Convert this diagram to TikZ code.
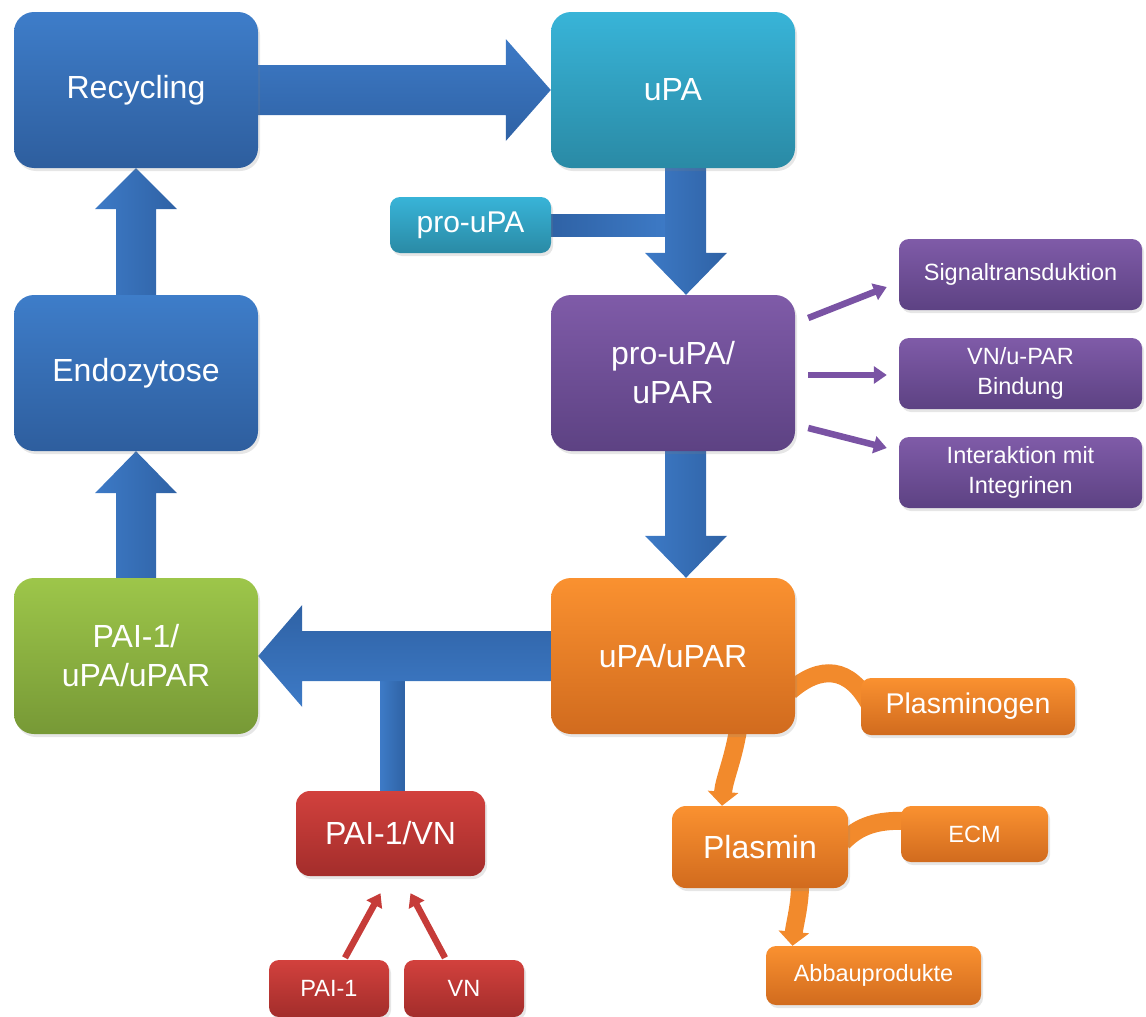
\documentclass[tikz,border=0pt]{standalone}
\usepackage{fontspec}
\setmainfont{Liberation Sans}
\usetikzlibrary{shadows,calc,backgrounds,arrows.meta}

\definecolor{blueT}{HTML}{3E7DC9}
\definecolor{blueB}{HTML}{2E5E9E}
\definecolor{cyanT}{HTML}{38B4D8}
\definecolor{cyanB}{HTML}{2A8AA5}
\definecolor{purpT}{HTML}{7F5BA8}
\definecolor{purpB}{HTML}{5D4283}
\definecolor{greenT}{HTML}{9DC64A}
\definecolor{greenB}{HTML}{779936}
\definecolor{orangeT}{HTML}{FA9130}
\definecolor{orangeB}{HTML}{D16B1E}
\definecolor{redT}{HTML}{D2413D}
\definecolor{redB}{HTML}{A32D2B}
\definecolor{arrL}{HTML}{3D7AC6}
\definecolor{arrD}{HTML}{2F62A5}
\definecolor{arcOr}{HTML}{F28A2C}
\definecolor{arrPurp}{HTML}{7A53A4}
\definecolor{arrRed}{HTML}{C63C39}

\tikzset{
  box/.style={rounded corners=20, draw=none, text=white, align=center, inner sep=0,
    drop shadow={shadow xshift=2, shadow yshift=3, opacity=0.2}},
  bigbox/.style={box, minimum width=244, minimum height=156, font=\fontsize{32}{39}\selectfont},
  smallbox/.style={box, rounded corners=10, font=\fontsize{23.5}{30}\selectfont},
  fblue/.style={top color=blueT, bottom color=blueB},
  fcyan/.style={top color=cyanT, bottom color=cyanB},
  fpurp/.style={top color=purpT, bottom color=purpB},
  fgreen/.style={top color=greenT, bottom color=greenB},
  forange/.style={top color=orangeT, bottom color=orangeB},
  fred/.style={top color=redT, bottom color=redB},
  harrow/.style={top color=arrL, bottom color=arrD},
  harrowrev/.style={top color=arrD, bottom color=arrL},
  varrow/.style={left color=arrL, right color=arrD},
  thinpurp/.style={draw=arrPurp, line width=6.5, -{Triangle[length=13, width=17]}},
  thinred/.style={draw=arrRed, line width=6.5, -{Triangle[length=13, width=17]}},
  oarc/.style={draw=arcOr, line width=18},
  oarcarrow/.style={oarc, -{Triangle[length=14, width=30]}},
}

\begin{document}
\begin{tikzpicture}[x=1pt, y=-1pt]
\useasboundingbox (0,0) rectangle (1146,1017);

% main boxes
\node[bigbox, fblue] (rec) at (136,90) {Recycling};
\node[bigbox, fcyan] (upa) at (673,90) {uPA};
\node[bigbox, fblue] (endo) at (136,373) {Endozytose};
\node[bigbox, fpurp] (pu) at (673,373) {pro-uPA/\\uPAR};
\node[bigbox, fgreen] (pai) at (136,656) {PAI-1/\\uPA/uPAR};
\node[bigbox, forange] (uu) at (673,656) {uPA/uPAR};

% small boxes
\node[smallbox, fcyan, minimum width=161, minimum height=56, font=\fontsize{30}{36}\selectfont] (pro) at (470.5,225) {pro-uPA};
\node[smallbox, fpurp, minimum width=243, minimum height=71] (sig) at (1020.5,274.5) {Signaltransduktion};
\node[smallbox, fpurp, minimum width=243, minimum height=71] (vnb) at (1020.5,373.5) {VN/u-PAR\\Bindung};
\node[smallbox, fpurp, minimum width=243, minimum height=71] (int) at (1020.5,472.5) {Interaktion mit\\Integrinen};
\node[smallbox, forange, minimum width=214, minimum height=57, font=\fontsize{28.5}{34}\selectfont] (plg) at (968,706.5) {Plasminogen};
\node[smallbox, forange, rounded corners=14, minimum width=176, minimum height=82, font=\fontsize{32}{38}\selectfont] (pl) at (760,847) {Plasmin};
\node[smallbox, forange, minimum width=147, minimum height=56] (ecm) at (974.5,834) {ECM};
\node[smallbox, forange, minimum width=215, minimum height=59] (abb) at (873.5,975.5) {Abbauprodukte};
\node[smallbox, fred, rounded corners=14, minimum width=189, minimum height=85, font=\fontsize{32}{38}\selectfont] (pvn) at (390.5,833.5) {PAI-1/VN};
\node[smallbox, fred, minimum width=120, minimum height=57] (p1) at (329,988.5) {PAI-1};
\node[smallbox, fred, minimum width=120, minimum height=57] (vn) at (464,988.5) {VN};

\begin{scope}[on background layer]
% Recycling -> uPA
\shade[harrow] ($(rec.east)+(-2,-25)$) -- ($(upa.west)+(-45,-25)$) -- ($(upa.west)+(-45,-51)$) -- (upa.west)
  -- ($(upa.west)+(-45,51)$) -- ($(upa.west)+(-45,25)$) -- ($(rec.east)+(-2,25)$) -- cycle;
% Endozytose -> Recycling
\shade[varrow] ($(endo.north)+(-20,2)$) -- ($(rec.south)+(-20,41)$) -- ($(rec.south)+(-41,41)$) -- (rec.south)
  -- ($(rec.south)+(41,41)$) -- ($(rec.south)+(20,41)$) -- ($(endo.north)+(20,2)$) -- cycle;
% PAI-1/uPA/uPAR -> Endozytose
\shade[varrow] ($(pai.north)+(-20,2)$) -- ($(endo.south)+(-20,42)$) -- ($(endo.south)+(-41,42)$) -- (endo.south)
  -- ($(endo.south)+(41,42)$) -- ($(endo.south)+(20,42)$) -- ($(pai.north)+(20,2)$) -- cycle;
% pro-uPA bar
\shade[left color=arrD, right color=arrL] ($(pro.east)+(-2,-11)$) rectangle ($(pro.east)+(117,11)$);
% uPA -> pro-uPA/uPAR
\shade[varrow] ($(upa.south)+(-8,-2)$) -- ($(pu.north)+(-8,-42)$) -- ($(pu.north)+(-28,-42)$) -- ($(pu.north)+(13,0)$)
  -- ($(pu.north)+(54,-42)$) -- ($(pu.north)+(33,-42)$) -- ($(upa.south)+(33,-2)$) -- cycle;
% pro-uPA/uPAR -> uPA/uPAR
\shade[varrow] ($(pu.south)+(-8,-2)$) -- ($(uu.north)+(-8,-42)$) -- ($(uu.north)+(-28,-42)$) -- ($(uu.north)+(13,0)$)
  -- ($(uu.north)+(54,-42)$) -- ($(uu.north)+(33,-42)$) -- ($(pu.south)+(33,-2)$) -- cycle;
% PAI-1/VN bar
\shade[varrow] ($(pvn.north)+(-10,2)$) rectangle ($(pvn.north)+(14,-112)$);
% uPA/uPAR -> PAI-1/uPA/uPAR
\shade[harrowrev] ($(uu.west)+(2,-25)$) -- ($(pai.east)+(44,-25)$) -- ($(pai.east)+(44,-51)$) -- (pai.east)
  -- ($(pai.east)+(44,51)$) -- ($(pai.east)+(44,25)$) -- ($(uu.west)+(2,25)$) -- cycle;

% orange arcs
\draw[oarc] ($(uu.east)+(-5,35)$) .. controls ($(uu.east)+(25,9)$) and ($(plg.west)+(-11,-41)$) .. ($(plg.west)+(10,0)$);
\draw[oarcarrow] ($(uu.south)+(65,-4)$) .. controls ($(uu.south)+(60,26)$) and ($(pl.north)+(-36,-26)$) .. ($(pl.north)+(-38,0)$);
\draw[oarc] ($(pl.east)+(-5,-5)$) .. controls ($(pl.east)+(14,-25)$) and ($(ecm.west)+(-16,-14)$) .. ($(ecm.west)+(9,-13)$);
\draw[oarcarrow] ($(pl.south)+(40,-3)$) .. controls ($(pl.south)+(40,17)$) and ($(abb.north)+(-79,-21)$) .. ($(abb.north)+(-81,0)$);
\end{scope}

% purple arrows
\draw[thinpurp] ($(pu.east)+(13,-55)$) -- ($(sig.west)+(-12,12.5)$);
\draw[thinpurp] ($(pu.east)+(13,2)$) -- ($(vnb.west)+(-12,1.5)$);
\draw[thinpurp] ($(pu.east)+(13,55)$) -- ($(int.west)+(-12,-24.5)$);

% red arrows
\draw[thinred] ($(p1.north)+(16,-2)$) -- ($(pvn.south)+(-10,17)$);
\draw[thinred] ($(vn.north)+(-19,-2)$) -- ($(pvn.south)+(20,17)$);
\end{tikzpicture}
\end{document}
